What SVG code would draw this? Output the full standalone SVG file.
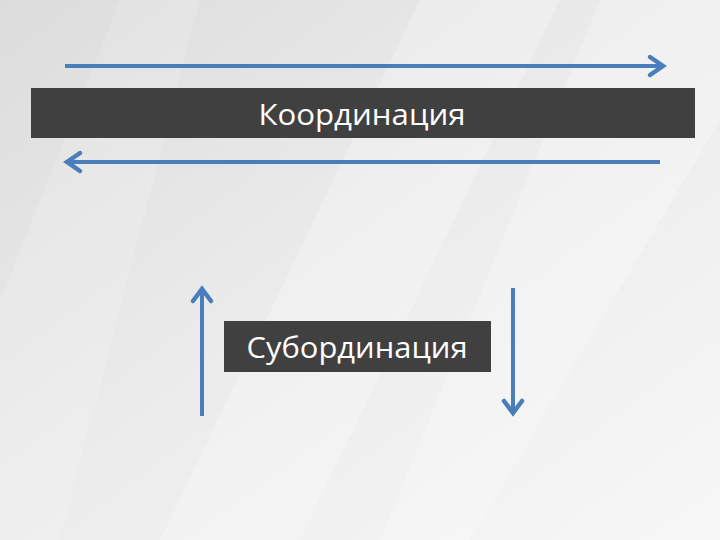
<svg xmlns="http://www.w3.org/2000/svg" width="720" height="540" viewBox="0 0 720 540">
<defs>
<linearGradient id="bg" x1="0" y1="0" x2="1" y2="1">
<stop offset="0" stop-color="#dcdcdc"/>
<stop offset="0.5" stop-color="#ececec"/>
<stop offset="1" stop-color="#f7f7f7"/>
</linearGradient>
<style>
.ln{stroke:#4a7ebb;stroke-width:4;fill:none}
.hd{stroke:#4a7ebb;stroke-width:4.5;fill:none;stroke-linecap:round;stroke-linejoin:miter}
.bar{fill:#404040}
.lbl{fill:#ffffff;font-family:"Open Sans","Liberation Sans",sans-serif;font-size:30px;text-anchor:middle}
</style>
</defs>
<rect width="720" height="540" fill="url(#bg)"/>
<polygon points="420,0 560,0 300,540 160,540" fill="#ffffff" opacity="0.25"/>
<polygon points="600,0 720,0 720,120 470,540 380,540" fill="#ffffff" opacity="0.25"/>
<polygon points="0,300 120,0 200,0 60,540 0,540" fill="#ffffff" opacity="0.15"/>
<g id="n1">
<rect class="bar" x="31" y="88" width="664" height="50"/>
<text class="lbl" x="362" y="125" textLength="207" lengthAdjust="spacingAndGlyphs">Координация</text>
</g>
<g id="n2">
<rect class="bar" x="224" y="321" width="267" height="51"/>
<text class="lbl" x="357" y="358" textLength="221" lengthAdjust="spacingAndGlyphs">Субординация</text>
</g>
<g id="connectors">
<line class="ln" x1="65" y1="66" x2="662" y2="66"/>
<polyline class="hd" points="650,57 663,66 650,75"/>
<line class="ln" x1="660" y1="162" x2="68" y2="162"/>
<polyline class="hd" points="80,153 67,162 80,171"/>
<line class="ln" x1="202" y1="416" x2="202" y2="290"/>
<polyline class="hd" points="193,301 202,289 211,301"/>
<line class="ln" x1="513" y1="288" x2="513" y2="412"/>
<polyline class="hd" points="504,401 513,413 522,401"/>
</g>
</svg>
